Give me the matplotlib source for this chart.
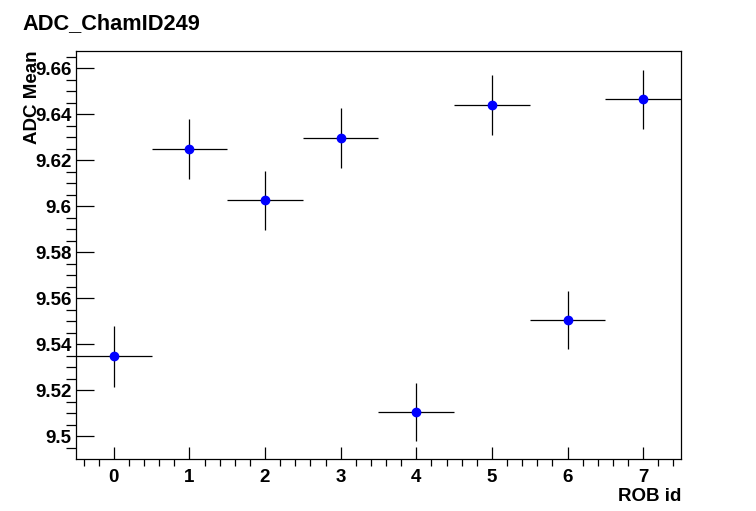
#!/usr/bin/env python

import matplotlib
matplotlib.use('Agg')
import matplotlib.pyplot as plt
from matplotlib.ticker import MultipleLocator, FuncFormatter

plt.rc("font", family=["Liberation Sans", "DejaVu Sans"], weight="bold")

# ROB id, ADC mean and its error
rob_id = [0, 1, 2, 3, 4, 5, 6, 7]
adc_mean = [9.5348, 9.6248, 9.6026, 9.6297, 9.5106, 9.6440, 9.5506, 9.6465]
adc_err = [0.0133, 0.0131, 0.0128, 0.0132, 0.0126, 0.0129, 0.0127, 0.0128]
bin_half = [0.5] * 8

fig = plt.figure(figsize=(7.56, 5.11), dpi=100)
ax = fig.add_axes([0.1005, 0.1018, 0.8003, 0.7984])

ax.errorbar(rob_id, adc_mean, xerr=bin_half, yerr=adc_err, fmt="o",
            color="blue", ms=6, ecolor="black", elinewidth=0.9, capsize=0)

ax.set_xlim(-0.5, 7.5)
ax.set_ylim(9.4901, 9.6675)
ax.xaxis.set_major_locator(MultipleLocator(1))
ax.xaxis.set_minor_locator(MultipleLocator(0.2))
ax.yaxis.set_major_locator(MultipleLocator(0.02))
ax.yaxis.set_minor_locator(MultipleLocator(0.005))
ax.yaxis.set_major_formatter(FuncFormatter(lambda v, p: f"{v:.2f}".rstrip("0")))

ax.tick_params(axis="both", direction="in", labelsize=13.5, width=0.9)
ax.tick_params(axis="x", which="major", length=9, pad=7)
ax.tick_params(axis="x", which="minor", length=5, width=0.9)
ax.tick_params(axis="y", which="major", length=13, pad=3)
ax.tick_params(axis="y", which="minor", length=7, width=0.9)
for s in ax.spines.values():
	s.set_linewidth(0.9)

ax.set_xlabel("ROB id", fontsize=13.5, fontweight="bold", loc="right")
ax.xaxis.set_label_coords(1.0, -0.07)
ax.set_ylabel("ADC Mean", fontsize=13.5, fontweight="bold", loc="top")
ax.yaxis.set_label_coords(-0.058, 1.0)

fig.text(0.03, 0.975, "ADC_ChamID249", fontsize=15.7, fontweight="bold", va="top", ha="left")

plt.savefig("out.png", dpi=100)
